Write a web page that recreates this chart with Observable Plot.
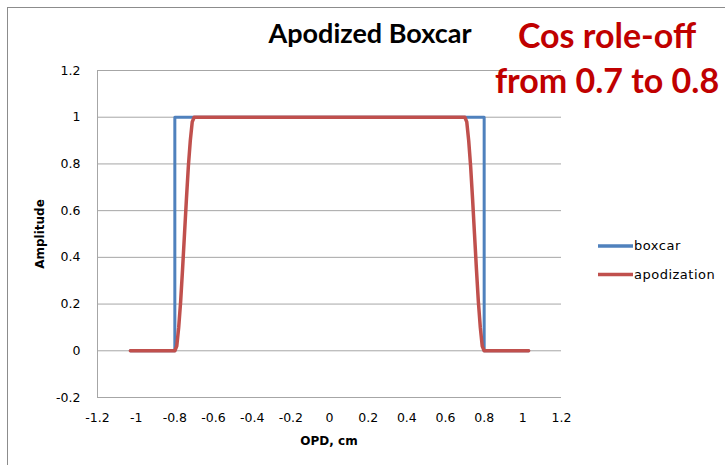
<!DOCTYPE html>
<html>
<head>
<meta charset="utf-8">
<script src="https://cdn.jsdelivr.net/npm/d3@7"></script>
<script src="https://cdn.jsdelivr.net/npm/@observablehq/plot@0.6"></script>
<style>
  body { margin: 0; background: #fff; }
  #chart svg { display: block; }
</style>
</head>
<body>
<div id="chart"></div>
<script>
// ---- data ----
const boxcarX = [-1.03, -0.8, -0.8, 0.8, 0.8, 1.03];
const boxcarY = [0, 0, 1, 1, 0, 0];
const apodX = [-1.03, -0.8, -0.79, -0.78, -0.77, -0.76, -0.75, -0.74, -0.73, -0.72, -0.71, -0.7,
               0.7, 0.71, 0.72, 0.73, 0.74, 0.75, 0.76, 0.77, 0.78, 0.79, 0.8, 1.03];
const apodY = [0, 0, 0.02, 0.1, 0.21, 0.35, 0.5, 0.65, 0.79, 0.9, 0.98, 1,
               1, 0.98, 0.9, 0.79, 0.65, 0.5, 0.35, 0.21, 0.1, 0.02, 0, 0];
const xTicks = [-1.2, -1, -0.8, -0.6, -0.4, -0.2, 0, 0.2, 0.4, 0.6, 0.8, 1, 1.2];
const yTicks = [-0.2, 0, 0.2, 0.4, 0.6, 0.8, 1, 1.2];
const seriesNames = ["boxcar", "apodization"];
const seriesColors = ["#4F81BD", "#C0504D"];
const titleText = "Apodized Boxcar";
const noteLines = ["Cos role-off", "from 0.7 to 0.8"];
const xLabel = "OPD, cm";
const yLabel = "Amplitude";

const boxcar = boxcarX.map((x, i) => ({x, y: boxcarY[i]}));
const apod = apodX.map((x, i) => ({x, y: apodY[i]}));
const fmt = d => String(+d.toFixed(1));

const W = 725, H = 465;
const plot = Plot.plot({
  width: W, height: H,
  marginLeft: 97, marginRight: 164, marginTop: 70, marginBottom: 68,
  style: {fontFamily: "'DejaVu Sans', sans-serif", fontSize: "12.5px", color: "#000", background: "#fff"},
  x: {domain: [-1.2, 1.2], label: null},
  y: {domain: [-0.2, 1.2], label: null},
  marks: [
    Plot.gridY(yTicks, {stroke: "#a6a6a6", strokeOpacity: 1, strokeWidth: 1}),
    Plot.ruleX([-1.2], {stroke: "#a6a6a6", strokeWidth: 1}),
    Plot.axisX({ticks: xTicks, tickFormat: fmt, tickSize: 0, tickPadding: 16, label: null}),
    Plot.axisY({ticks: yTicks, tickFormat: fmt, tickSize: 0, tickPadding: 17, label: null}),
    Plot.line(boxcar, {x: "x", y: "y", stroke: seriesColors[0], strokeWidth: 3}),
    Plot.line(apod, {x: "x", y: "y", stroke: seriesColors[1], strokeWidth: 3.5})
  ]
});
document.getElementById("chart").appendChild(plot);

const svg = d3.select(plot);
// chart frame
svg.insert("rect", ":first-child")
  .attr("x", 7.5).attr("y", 7.5).attr("width", 800).attr("height", 800)
  .attr("fill", "none").attr("stroke", "#8c8c8c").attr("stroke-width", 1);

// title
svg.append("text").attr("x", 370).attr("y", 43).attr("text-anchor", "middle")
  .attr("font-family", "Lato, sans-serif").attr("font-weight", "bold").attr("font-size", 27)
  .attr("fill", "#000").text(titleText);

// red annotation
noteLines.forEach((t, i) => {
  svg.append("text").attr("x", 607).attr("y", 48 + i * 45).attr("text-anchor", "middle")
    .attr("font-family", "Lato, sans-serif").attr("font-weight", "bold").attr("font-size", 34)
    .attr("fill", "#C00000").text(t);
});

// axis labels
svg.append("text").attr("transform", "translate(44,234) rotate(-90)").attr("text-anchor", "middle")
  .attr("font-family", "'DejaVu Sans', sans-serif").attr("font-weight", "bold").attr("font-size", 12)
  .attr("fill", "#000").text(yLabel);
svg.append("text").attr("x", 329).attr("y", 445).attr("text-anchor", "middle")
  .attr("font-family", "'DejaVu Sans', sans-serif").attr("font-weight", "bold").attr("font-size", 12)
  .attr("fill", "#000").text(xLabel);

// legend
seriesNames.forEach((name, i) => {
  const y = 246 + i * 28.5;
  svg.append("line").attr("x1", 598).attr("x2", 633).attr("y1", y).attr("y2", y)
    .attr("stroke", seriesColors[i]).attr("stroke-width", 3.5);
  svg.append("text").attr("x", 634).attr("y", y + 4).attr("text-anchor", "start")
    .attr("font-family", "'DejaVu Sans', sans-serif").attr("font-size", 13)
    .attr("letter-spacing", "0.5px").attr("fill", "#000").text(name);
});
</script>
</body>
</html>
